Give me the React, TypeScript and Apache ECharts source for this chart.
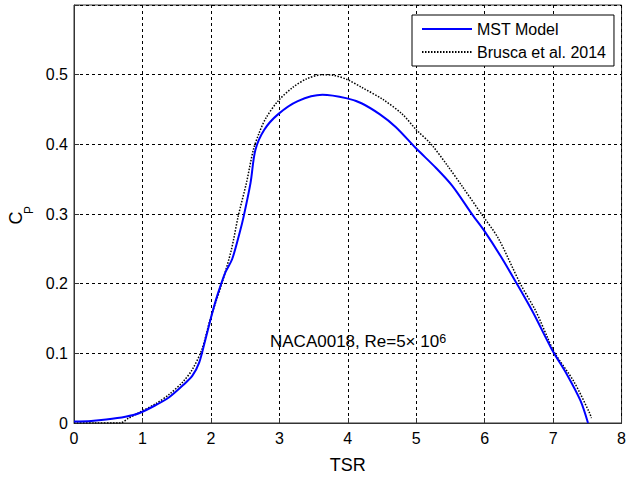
import React, { useEffect, useRef } from 'react';
import * as echarts from 'echarts';

// MST Model (blue solid)
const mstX = [0, 0.25, 0.47, 0.75, 0.95, 1.2, 1.39, 1.6, 1.73, 1.83, 1.92, 2.02, 2.1, 2.21, 2.31, 2.42, 2.48, 2.58, 2.65, 2.78, 2.98, 3.27, 3.63, 3.99, 4.2, 4.47, 4.7, 4.99, 5.29, 5.53, 5.82, 6.0, 6.23, 6.47, 6.7, 6.98, 7.2, 7.4, 7.51];
const mstY = [0.002, 0.003, 0.005, 0.009, 0.014, 0.026, 0.037, 0.055, 0.068, 0.087, 0.12, 0.158, 0.185, 0.216, 0.235, 0.273, 0.297, 0.345, 0.392, 0.421, 0.443, 0.462, 0.471, 0.466, 0.459, 0.443, 0.425, 0.395, 0.366, 0.34, 0.299, 0.275, 0.24, 0.2, 0.16, 0.106, 0.07, 0.032, 0.0];

// Brusca et al. 2014 (black dotted)
const bruscaX = [0, 0.3, 0.67, 0.8, 0.95, 1.2, 1.39, 1.6, 1.73, 1.87, 1.99, 2.08, 2.16, 2.3, 2.4, 2.52, 2.62, 2.7, 2.8, 2.98, 3.2, 3.4, 3.63, 3.8, 3.99, 4.2, 4.52, 4.8, 5.0, 5.22, 5.46, 5.67, 5.96, 6.2, 6.52, 6.75, 6.93, 7.02, 7.3, 7.53, 7.56];
const bruscaY = [0, 0, 0, 0.007, 0.015, 0.028, 0.041, 0.06, 0.077, 0.106, 0.149, 0.176, 0.2, 0.249, 0.297, 0.345, 0.392, 0.415, 0.437, 0.462, 0.482, 0.494, 0.5, 0.499, 0.493, 0.482, 0.464, 0.443, 0.421, 0.4, 0.369, 0.34, 0.299, 0.265, 0.2, 0.16, 0.12, 0.101, 0.06, 0.015, 0.007];

const seriesNames = ['MST Model', 'Brusca et al. 2014'];
const xRange = [0, 8];
const yRange = [0, 0.6];
const xInterval = 1;
const yInterval = 0.1;

const FONT = '"Liberation Sans", Arial, sans-serif';

export default function App() {
  const ref = useRef<HTMLDivElement>(null);
  useEffect(() => {
    if (!ref.current) return;
    const chart = echarts.init(ref.current, null, { renderer: 'svg' });
    const mstData = mstX.map((x, i) => [x, mstY[i]]);
    const bruscaData = bruscaX.map((x, i) => [x, bruscaY[i]]);
    const gridLine = { show: true, lineStyle: { color: '#000', width: 1, type: [3, 3] as any } };
    chart.setOption({
      animation: false,
      backgroundColor: '#fff',
      textStyle: { fontFamily: FONT },
      grid: {
        left: 74, right: 3, top: 5, bottom: 55,
        show: true, borderColor: '#333', borderWidth: 1, backgroundColor: 'transparent',
      },
      legend: {
        orient: 'vertical',
        left: 412, top: 15,
        padding: [6, 8, 6, 9],
        itemWidth: 50, itemHeight: 14, itemGap: 7,
        backgroundColor: '#fff', borderColor: '#000', borderWidth: 1,
        selectedMode: false,
        itemStyle: { opacity: 0 },
        textStyle: { fontSize: 16, color: '#000', fontFamily: FONT },
        data: seriesNames,
      },
      xAxis: {
        type: 'value', min: xRange[0], max: xRange[1], interval: xInterval,
        name: 'TSR', nameLocation: 'middle', nameGap: 33,
        nameTextStyle: { fontSize: 18, color: '#000', fontFamily: FONT },
        axisLine: { show: true, onZero: false, lineStyle: { color: '#333', width: 1 } },
        axisTick: { show: true, inside: true, length: 5, lineStyle: { color: '#333' } },
        axisLabel: { fontSize: 16, color: '#000', margin: 7, fontFamily: FONT },
        splitLine: gridLine,
      },
      yAxis: {
        type: 'value', min: yRange[0], max: yRange[1], interval: yInterval,
        axisLine: { show: true, onZero: false, lineStyle: { color: '#333', width: 1 } },
        axisTick: { show: true, inside: true, length: 5, lineStyle: { color: '#333' } },
        axisLabel: {
          fontSize: 16, color: '#000', margin: 6, fontFamily: FONT,
          formatter: (v: number) => (v > 0.55 ? '' : String(Math.round(v * 10) / 10)),
        },
        splitLine: gridLine,
      },
      graphic: [
        {
          type: 'text', x: 16, y: 218, rotation: Math.PI / 2,
          style: { text: 'C', font: `18px ${FONT}`, fill: '#000', align: 'center', verticalAlign: 'middle' },
        },
        {
          type: 'text', x: 29, y: 210, rotation: Math.PI / 2,
          style: { text: 'P', font: `12px ${FONT}`, fill: '#000', align: 'center', verticalAlign: 'middle' },
        },
        {
          type: 'text', x: 270, y: 341,
          style: {
            text: '{a|NACA0018, Re=5× 10}{s|6}',
            align: 'left', verticalAlign: 'middle',
            rich: {
              a: { fontSize: 17, fontFamily: FONT, fill: '#000', color: '#000' },
              s: { fontSize: 12.5, fontFamily: FONT, fill: '#000', color: '#000', verticalAlign: 'top' },
            },
          },
        },
      ],
      series: [
        {
          name: seriesNames[0], type: 'line', data: mstData, symbol: 'none', showSymbol: false,
          smooth: 0.3, lineStyle: { color: '#0000ff', width: 2 }, itemStyle: { color: '#0000ff' }, z: 3,
        },
        {
          name: seriesNames[1], type: 'line', data: bruscaData, symbol: 'none', showSymbol: false,
          smooth: 0.3, lineStyle: { color: '#000', width: 1.5, type: [1.5, 1.5] as any }, itemStyle: { color: '#000' }, z: 2,
        },
      ],
    });
    return () => chart.dispose();
  }, []);
  return (
    <div style={{ position: 'fixed', left: 0, top: 0, width: 629, height: 479, background: '#fff' }}>
      <div ref={ref} style={{ width: 629, height: 479 }} />
    </div>
  );
}
